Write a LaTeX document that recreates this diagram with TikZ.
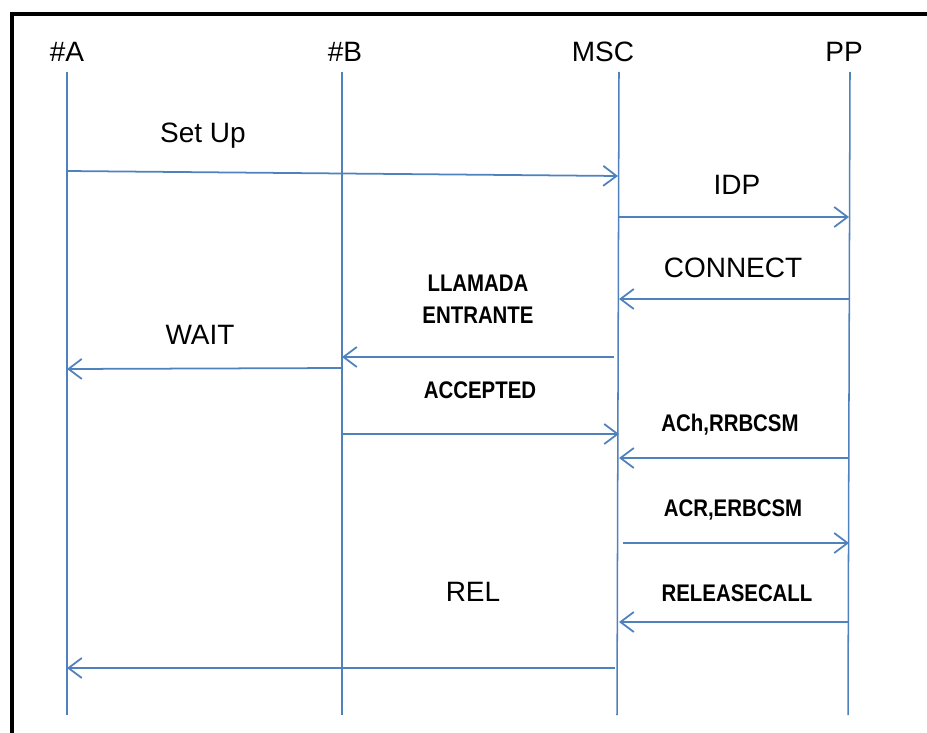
\documentclass[tikz,border=0pt]{standalone}
\usepackage{fontspec}
\setmainfont{Liberation Sans}
\newfontfamily\narrowbold[FakeStretch=0.85]{Liberation Sans Bold}
\usetikzlibrary{arrows.meta}
\definecolor{msgblue}{HTML}{4F81BD}

\begin{document}
\begin{tikzpicture}[x=0.03cm,y=-0.03cm]

\tikzstyle{actor}=[inner sep=0pt, font=\fontsize{23.9}{28}\selectfont]
\tikzstyle{label}=[inner sep=0pt, font=\fontsize{23.9}{28}\selectfont]
\tikzstyle{boldlabel}=[inner sep=0pt, align=center, font=\narrowbold\fontsize{20.5}{27}\selectfont]
\tikzstyle{lifeline}=[draw=msgblue, line width=1.3pt]
\tikzstyle{msg}=[draw=msgblue, line width=1.5pt, ->, >={Straight Barb[length=0.4cm,width=0.6cm]}]

\useasboundingbox (0,0) rectangle (927,733);

% frame
\draw[line width=2.6pt] (12,733) -- (12,14) -- (927,14);

% actors
\node[actor] (A) at (67,52) {\#A};
\node[actor] (B) at (345,52) {\#B};
\node[actor] (MSC) at (603,52) {MSC};
\node[actor] (PP) at (844,52) {PP};

\coordinate (Atop) at (67,72);
\coordinate (Abot) at (67,715);
\coordinate (Btop) at (342,72);
\coordinate (Bbot) at (342,715);
\coordinate (Mtop) at (619,72);
\coordinate (Mbot) at (617,715);
\coordinate (Ptop) at (850,72);
\coordinate (Pbot) at (848,715);

\draw[lifeline] (Atop) -- (Abot);
\draw[lifeline] (Btop) -- (Bbot);
\draw[lifeline] (Mtop) -- (Mbot);
\draw[lifeline] (Ptop) -- (Pbot);

% messages
\coordinate (setupA) at (67,171);
\coordinate (setupM) at (618,176);
\draw[msg] (setupA) -- (setupM);
\node[label] (setup) at (203,136) {Set Up};

\coordinate (idpM) at (619,217);
\coordinate (idpP) at (849,217);
\draw[msg] (idpM) -- (idpP);
\node[label] (idp) at (737,185) {IDP};

\coordinate (conP) at (849,299);
\coordinate (conM) at (619,299);
\draw[msg] (conP) -- (conM);
\node[label] (connect) at (733,268) {CONNECT};

\coordinate (llaM) at (614,357);
\coordinate (llaB) at (342,357);
\draw[msg] (llaM) -- (llaB);
\node[boldlabel] (llamada) at (478,299) {LLAMADA\\ENTRANTE};

\coordinate (waitB) at (342,368);
\coordinate (waitA) at (67,369);
\draw[msg] (waitB) -- (waitA);
\node[label] (wait) at (200,335) {WAIT};

\coordinate (accB) at (342,434);
\coordinate (accM) at (619,434);
\draw[msg] (accB) -- (accM);
\node[boldlabel] (accepted) at (480,390) {ACCEPTED};

\coordinate (achP) at (848,458);
\coordinate (achM) at (619,458);
\draw[msg] (achP) -- (achM);
\node[boldlabel] (ach) at (730,425) {ACh,RRBCSM};

\coordinate (acrM) at (623,543);
\coordinate (acrP) at (849,543);
\draw[msg] (acrM) -- (acrP);
\node[boldlabel] (acr) at (733,510) {ACR,ERBCSM};

\coordinate (relcP) at (848,622);
\coordinate (relcM) at (619,622);
\draw[msg] (relcP) -- (relcM);
\node[boldlabel] (releasecall) at (737,593) {RELEASECALL};

\coordinate (relM) at (615,668);
\coordinate (relA) at (67,668);
\draw[msg] (relM) -- (relA);
\node[label] (rel) at (473,592) {REL};

\end{tikzpicture}
\end{document}
